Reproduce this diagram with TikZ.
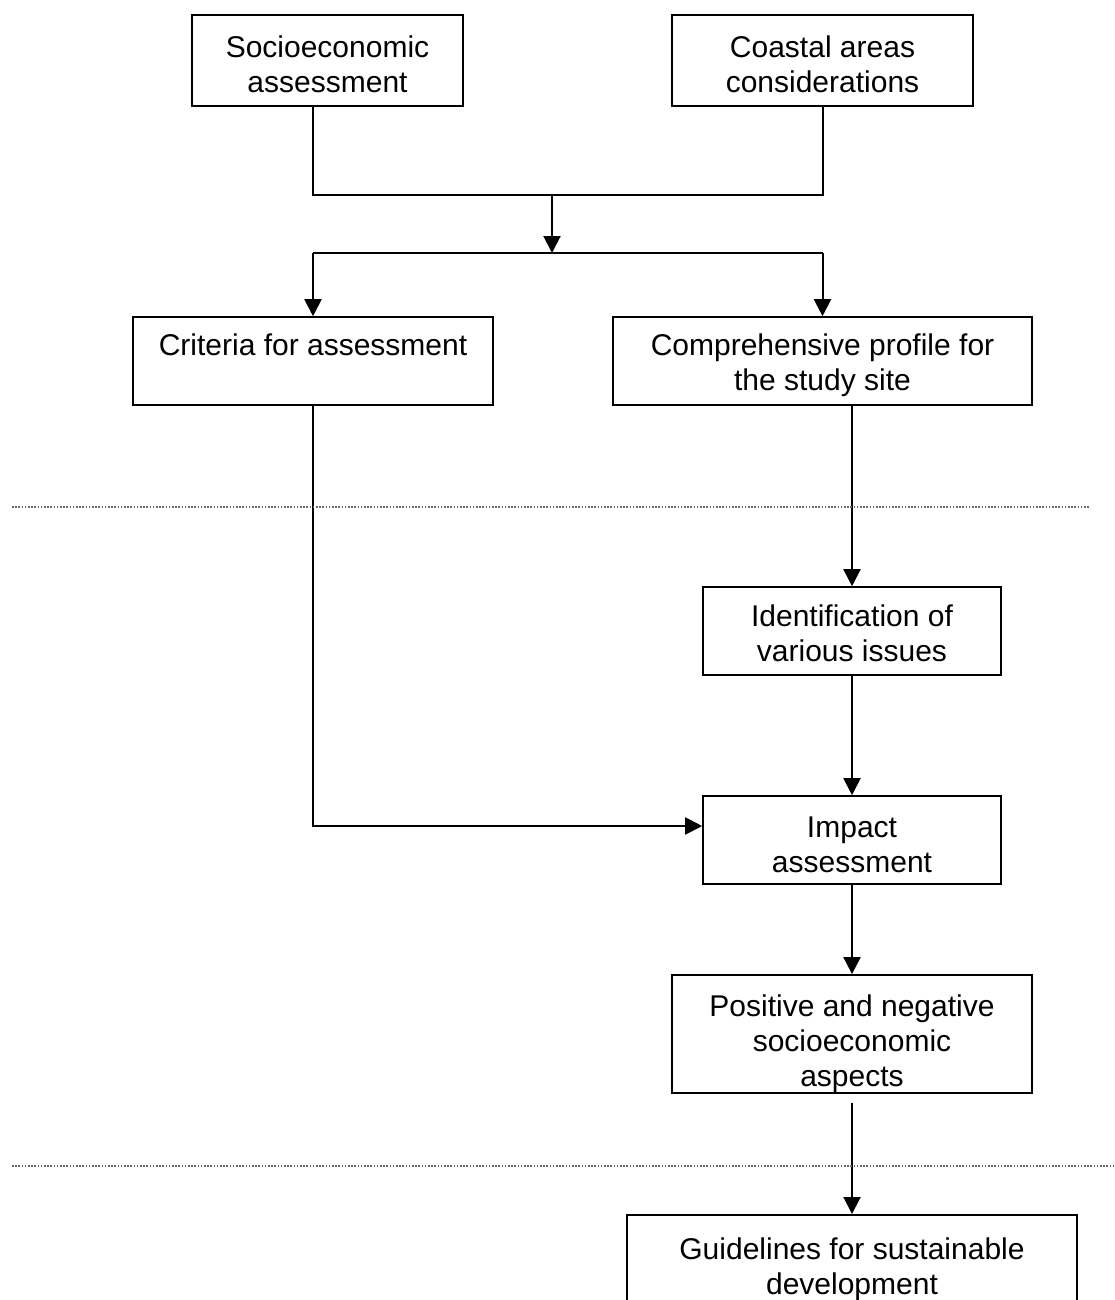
\documentclass[tikz,border=0pt]{standalone}
\usepackage{fontspec}
\setmainfont{Liberation Sans}
\usetikzlibrary{arrows.meta}
\newcommand\txtdrop[1]{\rule{0pt}{#1pt}}
\tikzset{
 box/.style={draw,line width=1.6pt,align=center,inner sep=0pt},
 arr/.style={-{Triangle[length=17pt,width=17pt]}},
 sep/.style={line width=1.3pt,gray!80!black,dash pattern=on 1.6pt off 1.6pt},
}
\begin{document}
\begin{tikzpicture}[font=\fontsize{30}{35}\selectfont,x=1pt,y=-1pt,line width=2pt]
\useasboundingbox (0,0) rectangle (1115,1300);
\node[box,minimum width=271pt,minimum height=91pt] (soc) at (327.5,60.5) {\txtdrop{30}Socioeconomic\\assessment};
\node[box,minimum width=301pt,minimum height=91pt] (coast) at (822.5,60.5) {\txtdrop{30}Coastal areas\\considerations};
\node[box,minimum width=360pt,minimum height=88pt] (crit) at (313,361) {\txtdrop{34}Criteria for assessment\\\strut};
\node[box,minimum width=419pt,minimum height=88pt] (comp) at (822.5,361) {\txtdrop{30}Comprehensive profile for\\the study site};
\node[box,minimum width=298pt,minimum height=88pt] (ident) at (852,631) {\txtdrop{26}Identification of\\various issues};
\node[box,minimum width=298pt,minimum height=88pt] (impact) at (852,840) {\txtdrop{30}Impact\\assessment};
\node[box,minimum width=360pt,minimum height=118pt] (pos) at (852,1034) {\txtdrop{42}Positive and negative\\socioeconomic\\aspects};
\node[box,minimum width=450pt,minimum height=108pt,anchor=north] (guide) at (852,1214) {Guidelines for sustainable\\development};
\coordinate (j1) at (552,195);
\coordinate (j2) at (552,253);
\coordinate (kink) at (313,826);
% top merge and split
\draw (crit.north |- soc.south) -- (crit.north |- j1) -- (coast.south |- j1) -- (coast.south);
\draw[arr] (j1) -- (j2);
\draw (crit.north |- j2) -- (comp.north |- j2);
\draw[arr] (crit.north |- j2) -- (crit.north);
\draw[arr] (comp.north |- j2) -- (comp.north);
% main chain
\draw[arr] (comp.south -| ident.north) -- (ident.north);
\draw[arr] (ident) -- (impact);
\draw[arr] (crit.south) -- (kink) -- (kink -| impact.west);
\draw[arr] (impact) -- (pos);
\draw[arr,shorten <=9pt] (pos) -- (guide);
% phase separators
\draw[sep] (12,507) -- (1090,507);
\draw[sep] (12,1166) -- (1115,1166);
\end{tikzpicture}
\end{document}
